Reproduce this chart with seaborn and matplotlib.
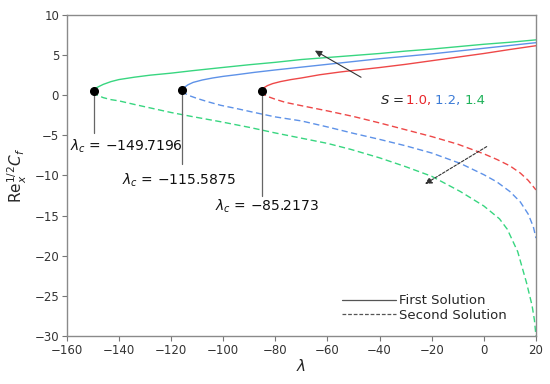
import matplotlib
matplotlib.use("Agg")
import matplotlib.pyplot as plt
import pandas as pd
import seaborn as sns
from matplotlib.lines import Line2D

# ---------------- data ----------------
S_values = ["1.0", "1.2", "1.4"]
line_colors = ["#ee4848", "#5e92e8", "#38d680"]
label_colors = ["#e8262b", "#3c7bd6", "#1fb25a"]

lam_c = [-85.2173, -115.5875, -149.7196]
cf_c = [0.5, 0.6, 0.5]
lam_c_text = ["\u221285.2173", "\u2212115.5875", "\u2212149.7196"]

# S = 1.0 (red)
lam_first_10 = [-85.22, -84.95, -84.5, -83, -81, -78, -74, -70, -63, -55, -47, -40, -30, -20, -10, 0, 10, 20]
cf_first_10 = [0.5, 0.72, 0.9, 1.2, 1.45, 1.7, 1.95, 2.15, 2.55, 2.9, 3.2, 3.45, 3.85, 4.3, 4.75, 5.2, 5.7, 6.17]
lam_second_10 = [-85.22, -84.95, -84.5, -83, -80, -76, -70, -60, -50, -40, -30, -20, -10, 0, 5, 10, 14, 17, 20]
cf_second_10 = [0.5, 0.3, 0.15, -0.15, -0.5, -0.9, -1.3, -1.95, -2.65, -3.45, -4.3, -5.15, -6.1, -7.3, -8.0, -8.8, -9.7, -10.6, -11.8]

# S = 1.2 (blue)
lam_first_12 = [-115.59, -115.3, -114.8, -113.5, -111.5, -108, -104, -100, -95, -88, -80, -70, -60, -50, -40, -30, -20, -10, 0, 10, 20]
cf_first_12 = [0.6, 0.82, 1.0, 1.3, 1.6, 1.9, 2.15, 2.35, 2.55, 2.85, 3.15, 3.5, 3.85, 4.2, 4.55, 4.85, 5.15, 5.5, 5.85, 6.2, 6.55]
lam_second_12 = [-115.59, -115.3, -114.8, -113, -110, -106, -101, -95, -88, -80, -70, -60, -50, -40, -30, -20, -9, 0, 5, 10, 14, 17, 19, 20]
cf_second_12 = [0.6, 0.4, 0.25, -0.05, -0.4, -0.8, -1.25, -1.65, -2.15, -2.7, -3.2, -3.95, -4.75, -5.5, -6.3, -7.2, -8.5, -9.9, -10.8, -12.0, -13.3, -14.8, -16.4, -17.8]

# S = 1.4 (green)
lam_first_14 = [-149.72, -149.4, -148.5, -146, -143, -140, -134, -128, -120, -112, -101, -90, -80, -70, -60, -50, -40, -30, -20, -10, 0, 10, 20]
cf_first_14 = [0.5, 0.72, 0.95, 1.35, 1.7, 1.95, 2.25, 2.5, 2.75, 3.05, 3.43, 3.8, 4.1, 4.45, 4.7, 4.95, 5.2, 5.5, 5.75, 6.05, 6.35, 6.6, 6.9]
lam_second_14 = [-149.72, -149.4, -148.5, -146, -143, -140, -134, -127, -120, -112, -101, -90, -80, -70, -60, -51, -40, -30, -20, -9, 0, 6, 9, 13, 16.4, 18.5, 19.4, 20]
cf_second_14 = [0.5, 0.3, 0.05, -0.3, -0.55, -0.7, -1.15, -1.65, -2.15, -2.65, -3.3, -4.0, -4.7, -5.35, -6.0, -6.75, -7.8, -8.9, -10.1, -12.0, -13.8, -15.4, -16.7, -19.5, -23.4, -26.2, -28.0, -30.0]

x_ticks = [-160, -140, -120, -100, -80, -60, -40, -20, 0, 20]
y_ticks = [-30, -25, -20, -15, -10, -5, 0, 5, 10]

# ---------------- build table ----------------
curves = [
    ("1.0", "First Solution", lam_first_10, cf_first_10),
    ("1.0", "Second Solution", lam_second_10, cf_second_10),
    ("1.2", "First Solution", lam_first_12, cf_first_12),
    ("1.2", "Second Solution", lam_second_12, cf_second_12),
    ("1.4", "First Solution", lam_first_14, cf_first_14),
    ("1.4", "Second Solution", lam_second_14, cf_second_14),
]
rows = []
for s, br, lx, ly in curves:
    for a, b in zip(lx, ly):
        rows.append({"lam": a, "cf": b, "S": s, "branch": br})
df = pd.DataFrame(rows)

# ---------------- plot ----------------
sns.set_theme(style="ticks")
plt.rcParams["font.family"] = ["DejaVu Sans"]
plt.rcParams["mathtext.fontset"] = "dejavusans"

fig = plt.figure(figsize=(5.5, 3.84), dpi=100)
ax = fig.add_axes([0.1213, 0.125, 0.8532, 0.836])

sns.lineplot(
    data=df, x="lam", y="cf", hue="S", style="branch",
    hue_order=S_values, palette=dict(zip(S_values, line_colors)),
    style_order=["First Solution", "Second Solution"],
    dashes={"First Solution": "", "Second Solution": (4.5, 2.5)},
    sort=False, estimator=None, legend=False, linewidth=1.0, ax=ax,
)

ax.set_xlim(-160, 20)
ax.set_ylim(-30, 10)
ax.set_xticks(x_ticks)
ax.set_yticks(y_ticks)
ax.set_xticklabels([str(t).replace("-", "\u2212") for t in x_ticks])
ax.set_yticklabels([str(t).replace("-", "\u2212") for t in y_ticks])
ax.tick_params(axis="both", direction="out", length=3.5, width=0.8,
               color="#777777", labelsize=8.5, labelcolor="#333333", pad=2)
for sp in ax.spines.values():
    sp.set_visible(True)
    sp.set_color("#8a8a8a")
    sp.set_linewidth(1.0)

ax.set_xlabel(r"$\lambda$", fontsize=11, labelpad=1)
ax.set_ylabel(r"$\mathrm{Re}_x^{1/2}C_f$", fontsize=11, labelpad=4)

# critical points, pointer lines and labels
line_ends = [-12.6, -8.6, -4.7]
label_pos = [(-83.2, -13.9), (-116.9, -10.6), (-137.0, -6.4)]
for lc, cc, le, (tx, ty), txt in zip(lam_c, cf_c, line_ends, label_pos, lam_c_text):
    ax.plot([lc, lc], [cc, le], color="#666666", lw=0.9, zorder=3)
    ax.plot([lc], [cc], marker="o", color="black", markersize=5.5, zorder=5)
    ax.text(tx, ty, r"$\lambda_c$ = " + txt, ha="center", va="center",
            fontsize=10, color="#111111", zorder=6)

# arrows
ax.annotate("", xy=(-64.8, 5.56), xytext=(-47.1, 2.24),
            arrowprops=dict(arrowstyle="-|>", color="#333333", lw=0.8,
                            mutation_scale=10, shrinkA=0, shrinkB=0))
ax.annotate("", xy=(-22.6, -11.06), xytext=(1.1, -6.4),
            arrowprops=dict(arrowstyle="-|>", color="#333333", lw=0.8,
                            linestyle=(0, (2.5, 1.5)),
                            mutation_scale=10, shrinkA=0, shrinkB=0))

# S label with coloured values
t = ax.text(-39.9, -0.6, r"$S$ = ", ha="left", va="center", fontsize=9.5, color="#222222")
pieces = [("1.0, ", label_colors[0]), ("1.2, ", label_colors[1]), ("1.4", label_colors[2])]
prev = t
for txt, col in pieces:
    prev = ax.annotate(txt, xy=(1, 0), xycoords=prev, ha="left", va="bottom",
                       fontsize=9.5, color=col)

# legend
handles = [
    Line2D([0], [0], color="#555555", lw=0.9, linestyle="-"),
    Line2D([0], [0], color="#555555", lw=0.9, linestyle=(0, (3, 1.5))),
]
ax.legend(handles, ["First Solution", "Second Solution"], loc="lower left",
          bbox_to_anchor=(0.586, 0.045), frameon=False, fontsize=9.5,
          handlelength=4.1, handletextpad=0.25, labelspacing=0.1,
          borderpad=0, borderaxespad=0)

fig.savefig("out.png", dpi=100)
